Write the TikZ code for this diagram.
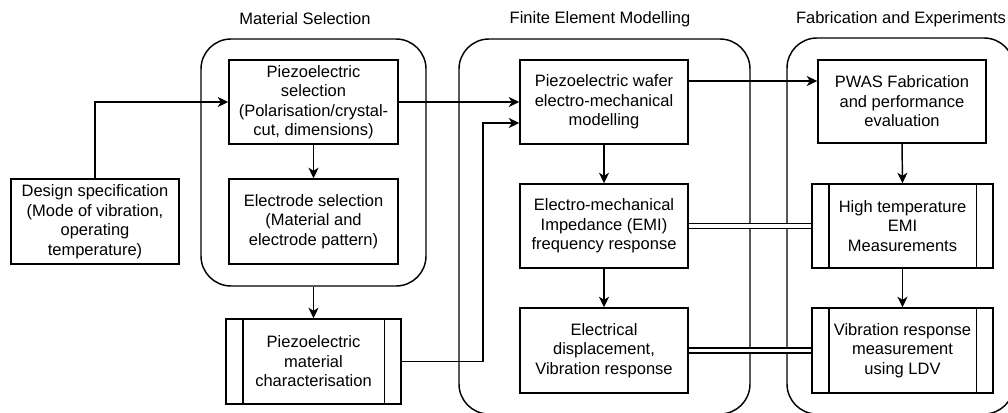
\documentclass[tikz,border=0pt]{standalone}
\usepackage{fontspec}
\setmainfont{Liberation Sans}
\usetikzlibrary{arrows.meta,calc}
\begin{document}
\begin{tikzpicture}[x=1pt,y=-1pt,
  lw/.style={line width=1.45pt},
  box/.style={lw,draw,rectangle,align=center,inner sep=0pt,
    font=\fontsize{16.5}{19.5}\selectfont},
  grp/.style={lw,draw,rectangle,rounded corners=30pt,inner sep=0pt},
  ttl/.style={font=\fontsize{16.5}{19.5}\selectfont,inner sep=0pt},
  arr/.style={lw,-{Stealth[length=10.5pt,width=10pt,inset=3pt]}},
  dbl/.style={line width=1.3pt,double,double distance=3.5pt}
]
\useasboundingbox (0,0) rectangle (1008,412);
% groups
\node[grp,minimum width=225,minimum height=247] (gm) at (313.5,162.5) {};
\node[grp,minimum width=291,minimum height=375] (gf) at (604.5,226.5) {};
\node[grp,minimum width=227,minimum height=376] (gx) at (900.5,226) {};
% titles
\node[ttl] (tm) at (305,19) {Material Selection};
\node[ttl] (tf) at (600,19) {Finite Element Modelling};
\node[ttl] (tx) at (901,19) {Fabrication and Experiments};
% boxes
\node[box,minimum width=168,minimum height=85] (ds) at (95,221.5)
  {Design specification\\(Mode of vibration,\\operating\\temperature)};
\node[box,minimum width=169,minimum height=84] (ps) at (313.5,102)
  {Piezoelectric\\selection\\(Polarisation/crystal-\\cut, dimensions)};
\node[box,minimum width=169,minimum height=85] (es) at (313.5,221.5)
  {Electrode selection\\(Material and\\electrode pattern)};
\node[box,minimum width=175,minimum height=85] (ch) at (313.5,361.5)
  {Piezoelectric\\material\\characterisation};
\node[box,minimum width=168,minimum height=84] (wf) at (604,102)
  {Piezoelectric wafer\\electro-mechanical\\modelling};
\node[box,minimum width=168,minimum height=84] (emi) at (604,226)
  {Electro-mechanical\\Impedance (EMI)\\frequency response};
\node[box,minimum width=168,minimum height=85] (dp) at (604,350.5)
  {Electrical\\displacement,\\Vibration response};
\node[box,minimum width=168,minimum height=83] (pw) at (902,101.5)
  {PWAS Fabrication\\and performance\\evaluation};
\node[box,minimum width=181,minimum height=84] (ht) at (902.5,226)
  {High temperature\\EMI\\Measurements};
\node[box,minimum width=181,minimum height=85] (vb) at (902.5,350.5)
  {Vibration response\\measurement\\using LDV};
% predefined-process side bars
\foreach \n in {ch,ht,vb}{
  \draw[lw] ([xshift=17.5pt]\n.north west) -- ([xshift=17.5pt]\n.south west);
  \draw[lw] ([xshift=-17.5pt]\n.north east) -- ([xshift=-17.5pt]\n.south east);
}
% connectors
\draw[arr] (ds.north) |- (ps.west);
\draw[arr] (ps.south) -- (es.north);
\draw[arr] (gm.south) -- (ch.north);
\draw[arr] (ps.east) -- (wf.west);
\coordinate (k) at (483,123);
\coordinate (w2) at ([yshift=-21pt]wf.west);
\draw[arr] (ch.east) -| (k) -- (w2);
\coordinate (w1) at ([yshift=21pt]wf.east);
\draw[arr] (w1) -- (w1 -| pw.west);
\draw[arr] (wf.south) -- (emi.north);
\draw[arr] (emi.south) -- (dp.north);
\draw[arr] (pw.south) -- (ht.north);
\draw[arr] (ht.south) -- (vb.north);
\draw[dbl] (emi.east) -- (ht.west);
\draw[dbl] (dp.east) -- (vb.west);
\end{tikzpicture}
\end{document}
